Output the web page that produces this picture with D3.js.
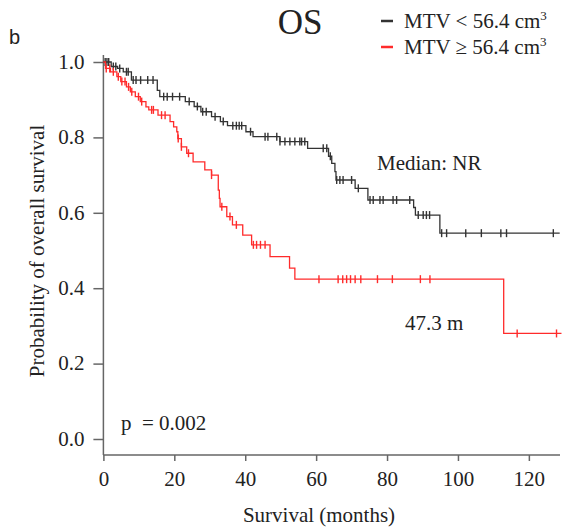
<!DOCTYPE html>
<html>
<head>
<meta charset="utf-8">
<script src="https://cdn.jsdelivr.net/npm/d3@7"></script>
<style>
  body { margin: 0; background: #fff; }
  text { font-family: "Liberation Serif", "Times New Roman", serif; fill: #222; white-space: pre; }
</style>
</head>
<body>
<svg id="chart" width="573" height="529"></svg>
<script>
// KM steps: [time (months), survival after drop]
const lowSteps = [
  [0, 1.0], [2.2, 0.988], [4, 0.983], [5.6, 0.974], [7.9, 0.952], [15.2, 0.925],
  [15.9, 0.908], [23.1, 0.895], [25.6, 0.882], [27.5, 0.868], [30.5, 0.855],
  [33, 0.842], [35, 0.831], [40.2, 0.815], [42.2, 0.802], [49.8, 0.789],
  [57.6, 0.771], [63.5, 0.75], [64.4, 0.731], [65.3, 0.709], [65.6, 0.687],
  [71, 0.665], [74.6, 0.634], [87.5, 0.614], [88, 0.594], [94.9, 0.546]
];
const lowEnd = 128.7;
const lowCensor = [
  0.5, 1, 1.5, 2.8, 3.5, 4.6, 6.5, 7, 8.4, 9.2, 10.5, 12.5, 14, 17, 18, 19.5,
  21.5, 24.2, 26.5, 28, 29, 31.5, 33.8, 36.5, 37.5, 38.3, 39, 41.5, 45.6, 46.4,
  48.9, 49.8, 51.2, 52.6, 54, 55.4, 55.9, 56.8, 62, 63, 64, 65.8, 66.7, 67.6,
  70, 71.9, 75.2, 76.1, 78, 78.9, 81.7, 82.7, 86.4, 88.8, 90.2, 91.1, 92, 95.4,
  96.8, 102.2, 106.6, 112.1, 113.7, 126.9
];

const highSteps = [
  [0, 1.0], [0.6, 0.983], [2, 0.974], [3.8, 0.961], [4.9, 0.948], [6.5, 0.934],
  [7.6, 0.921], [9, 0.908], [10.4, 0.895], [12, 0.881], [12.8, 0.873],
  [15.4, 0.859], [18.8, 0.842], [19.8, 0.828], [20.7, 0.815], [21, 0.797],
  [22, 0.775], [23.5, 0.758], [25.3, 0.735], [28.6, 0.714], [30.5, 0.70],
  [32.4, 0.66], [32.7, 0.638], [32.9, 0.616], [34.8, 0.59], [36.4, 0.568],
  [39.3, 0.541], [41.8, 0.515], [47, 0.484], [52.5, 0.453], [54, 0.424],
  [112.9, 0.28]
];
const highEnd = 129.2;
const highCensor = [
  0.8, 1.8, 2.8, 4.2, 5.2, 6.1, 7.1, 8, 9.9, 10.8, 13.6, 14.1, 16.4, 17.4,
  21.1, 22, 24, 30.5, 33.4, 35.7, 37.5, 42.3, 43.2, 44.3, 45.6, 60.8, 66.2,
  67.5, 68.6, 69.7, 71, 72.6, 77.3, 81.5, 89.4, 92.1, 116.7, 127.8
];

const xTicks = [0, 20, 40, 60, 80, 100, 120];
const yTicks = [0, 0.2, 0.4, 0.6, 0.8, 1.0];
const groups = [
  {name: "MTV < 56.4 cm", steps: lowSteps, end: lowEnd, censor: lowCensor, color: "#333"},
  {name: "MTV \u2265 56.4 cm", steps: highSteps, end: highEnd, censor: highCensor, color: "#ff2b2b"}
];

const svg = d3.select("#chart");
const x = d3.scaleLinear().domain([0, 128.5]).range([103.4, 559]);
const y = d3.scaleLinear().domain([0, 1]).range([439, 62]);
const axisY = 455;
const fs = 21;

// axes
const xAxis = svg.append("g")
  .attr("transform", `translate(0,${axisY})`)
  .call(d3.axisBottom(x).tickValues(xTicks).tickSize(6).tickSizeOuter(0));
xAxis.select(".domain").attr("d", `M${x(0)},0H560`);
const yAxis = svg.append("g")
  .attr("transform", `translate(${x(0)},0)`)
  .call(d3.axisLeft(y).tickValues(yTicks).tickFormat(d3.format(".1f")).tickSize(10).tickSizeOuter(0));
yAxis.select(".domain").attr("d", `M0,55V${axisY}`);
svg.selectAll(".domain, .tick line").attr("stroke", "#666").attr("stroke-width", 1.5);
svg.selectAll(".tick text").attr("font-size", fs).attr("fill", "#222")
  .style("font-family", "Liberation Serif, serif");
xAxis.selectAll(".tick text").attr("y", 11).attr("dy", "0.95em");
yAxis.selectAll(".tick text").attr("x", -19).attr("dy", "0.3em");

// curves
const bis = d3.bisector(d => d[0]).right;
function survAt(steps, t) { return steps[bis(steps, t) - 1][1]; }
function stepPath(steps, end) {
  const pts = steps.concat([[end, steps[steps.length - 1][1]]]);
  return d3.line().x(d => x(d[0])).y(d => y(d[1])).curve(d3.curveStepAfter)(pts);
}
groups.forEach(g => {
  svg.append("path").attr("d", stepPath(g.steps, g.end))
    .attr("fill", "none").attr("stroke", g.color).attr("stroke-width", 1.3);
  svg.append("g").selectAll("line").data(g.censor).join("line")
    .attr("x1", d => x(d)).attr("x2", d => x(d))
    .attr("y1", d => y(survAt(g.steps, d)) - 4)
    .attr("y2", d => y(survAt(g.steps, d)) + 4)
    .attr("stroke", g.color).attr("stroke-width", 1.4);
});

// titles and labels
svg.append("text").attr("x", 9).attr("y", 44).text("b")
  .style("font-family", "Liberation Sans, Arial, sans-serif").attr("font-size", 20);
svg.append("text").attr("x", 300).attr("y", 34).attr("text-anchor", "middle")
  .attr("font-size", 35).text("OS");
const leg = svg.append("g");
groups.forEach((g, i) => {
  const ly = 21 + i * 26;
  leg.append("line").attr("x1", 381).attr("x2", 393).attr("y1", ly).attr("y2", ly)
    .attr("stroke", g.color).attr("stroke-width", 2.5);
  const t = leg.append("text").attr("x", 404).attr("y", ly + 7).attr("font-size", fs).text(g.name);
  t.append("tspan").attr("dy", -8).attr("font-size", 13).text("3");
});
svg.append("text").attr("x", 377).attr("y", 170).attr("font-size", fs).text("Median: NR");
svg.append("text").attr("x", 405).attr("y", 330).attr("font-size", fs).text("47.3 m");
svg.append("text").attr("x", 121).attr("y", 430).attr("font-size", fs).text("p  = 0.002");
svg.append("text").attr("x", 319).attr("y", 522).attr("text-anchor", "middle")
  .attr("font-size", fs).text("Survival (months)");
svg.append("text").attr("transform", "translate(44,251) rotate(-90)")
  .attr("text-anchor", "middle").attr("font-size", fs).text("Probability of overall survival");
</script>
</body>
</html>
